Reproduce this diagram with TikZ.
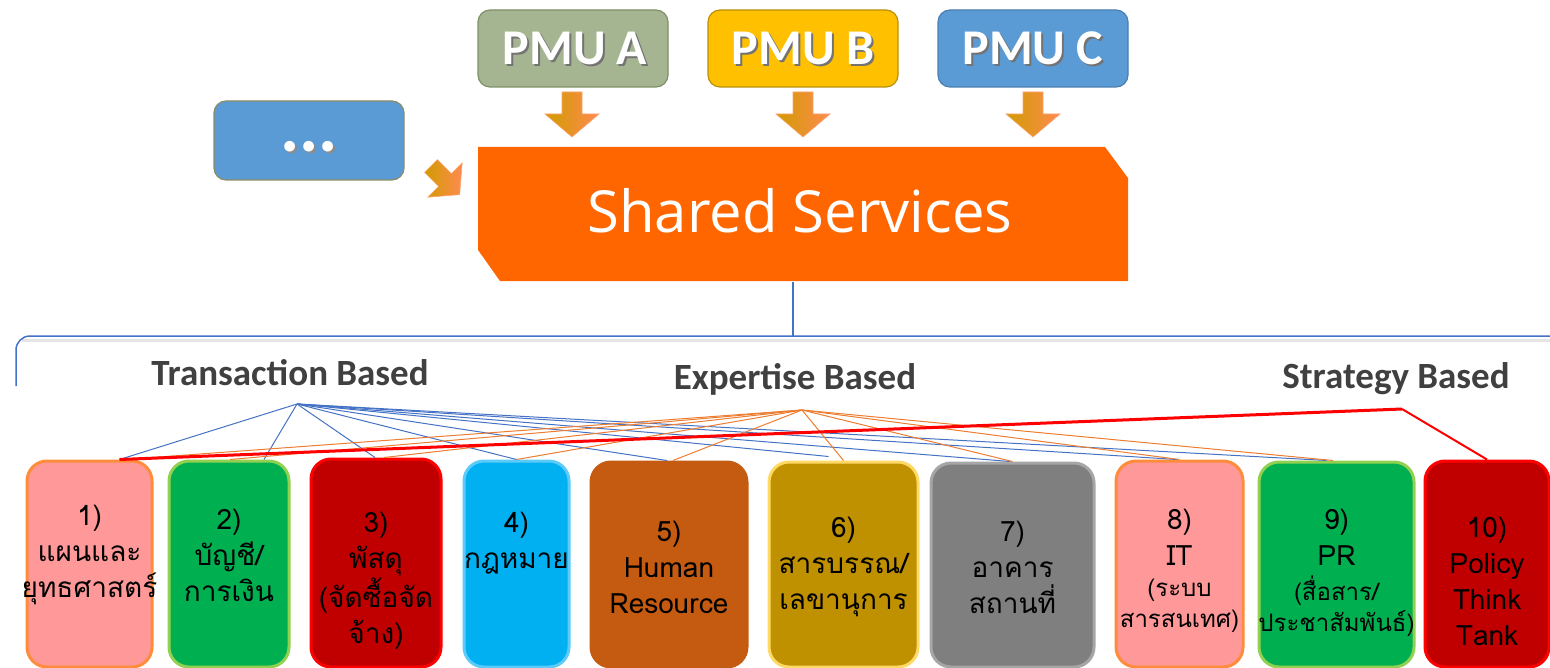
\documentclass[tikz,border=0pt]{standalone}
\usepackage{fontspec}
\setmainfont{Carlito}
\newfontfamily\thaifont[Script=Thai]{Loma}
\newfontfamily\ssfont{Open Sans}
\usetikzlibrary{calc}
\definecolor{pmuAfill}{HTML}{A5B592}
\definecolor{pmuAdraw}{HTML}{7F8F66}
\definecolor{pmuBfill}{HTML}{FFC000}
\definecolor{pmuBdraw}{HTML}{B8900A}
\definecolor{pmuCfill}{HTML}{5B9BD5}
\definecolor{pmuCdraw}{HTML}{4A7EB0}
\definecolor{dotsdraw}{HTML}{8C8C66}
\definecolor{ssorange}{HTML}{FF6600}
\definecolor{argold}{HTML}{D09C00}
\definecolor{arorange}{HTML}{FF8A50}
\definecolor{arline}{HTML}{FF7A30}
\definecolor{lblgrey}{HTML}{404040}
\definecolor{linkblue}{HTML}{4472C4}
\definecolor{linkorange}{HTML}{ED7D31}
\definecolor{linkred}{HTML}{FF0000}
\definecolor{pinkfill}{HTML}{FF9999}
\definecolor{pinkdraw}{HTML}{FF8C3A}
\definecolor{greenfill}{HTML}{00B050}
\definecolor{greendraw}{HTML}{92D050}
\definecolor{darkred}{HTML}{C00000}
\definecolor{brightred}{HTML}{FF0000}
\definecolor{skyfill}{HTML}{00B0F0}
\definecolor{skydraw}{HTML}{5CCBFA}
\definecolor{brownfill}{HTML}{C55A11}
\definecolor{goldfill}{HTML}{BF9000}
\definecolor{golddraw}{HTML}{FFD966}
\definecolor{greyfill}{HTML}{7F7F7F}
\definecolor{greydraw}{HTML}{A6A6A6}
\tikzset{
  pmubox/.style={draw=#1, rounded corners=6pt, line width=0.6pt, minimum width=95pt, minimum height=38.5pt, inner sep=0pt},
  pmutext/.style={text=white, font=\bfseries\fontsize{25}{28}\selectfont},
  pmushadow/.style={text=black!55, font=\bfseries\fontsize{25}{28}\selectfont},
  grouplbl/.style={text=lblgrey, font=\bfseries\fontsize{18.5}{21}\selectfont},
  svcbox/.style args={#1/#2}{draw=#2, fill=#1, line width=1.5pt, rounded corners=10pt, inner sep=0pt},
  svctext/.style={align=center, text=black, font=\thaifont\fontsize{14}{18}\selectfont, inner sep=0pt},
  svcsmall/.style={align=center, text=black, font=\thaifont\fontsize{12}{15.5}\selectfont, inner sep=0pt},
  bluelink/.style={draw=linkblue, line width=0.5pt},
  orangelink/.style={draw=linkorange, line width=0.5pt},
  redlink/.style={draw=linkred, line width=#1},
  barrow/.pic={\shade[left color=argold, right color=arorange, draw=arline!70, line width=0.3pt]
     (-10,0) -- (10,0) -- (10,22) -- (27,22) -- (0,45) -- (-27,22) -- (-10,22) -- cycle;}
}
\begin{document}
\begin{tikzpicture}[x=0.5pt,y=-0.5pt]
\useasboundingbox (0,0) rectangle (1550,668);

% --- PMU boxes
\node[pmubox=pmuAdraw, fill=pmuAfill] (pmua) at (573,48.5) {};
\node[pmubox=pmuBdraw, fill=pmuBfill] (pmub) at (803,48.5) {};
\node[pmubox=pmuCdraw, fill=pmuCfill] (pmuc) at (1033,48.5) {};
\node[pmushadow] (pmuas) at (577,50) {PMU A};
\node[pmutext] (pmuat) at (575,48) {PMU A};
\node[pmushadow] (pmubs) at (805,50) {PMU B};
\node[pmutext] (pmubt) at (803,48) {PMU B};
\node[pmushadow] (pmucs) at (1035,50) {PMU C};
\node[pmutext] (pmuct) at (1033,48) {PMU C};

% --- dots box
\node[pmubox=dotsdraw, fill=pmuCfill, minimum height=39.5pt] (dots) at (309,140.5) {};
\node[text=black!45, font=\bfseries\fontsize{36}{36}\selectfont] (dotss) at (311,149) {...};
\node[text=white, font=\bfseries\fontsize{36}{36}\selectfont] (dotst) at (309,147) {...};

% --- arrows
\pic at (572,92) {barrow};
\pic at (803,92) {barrow};
\pic at (1033,92) {barrow};
\pic[rotate=45, scale=0.9] at (431,166) {barrow};

% --- Shared services
\fill[ssorange] (478,147) -- (1105,147) -- (1128,178) -- (1128,281) -- (500,281) -- (478,250) -- cycle;
\node[text=white, font=\ssfont\fontsize{29}{32}\selectfont] (ss) at (800,211) {Shared Services};
\coordinate (ssb) at (793,282);
\coordinate (brk) at (793,336);

% --- bracket
\draw[black!10, line width=1.5pt] (22,340) -- (1552,340);
\draw[linkblue, line width=0.75pt] (ssb) -- (brk);
\draw[linkblue, line width=0.75pt, rounded corners=7pt] (1552,336) -- (16,336) -- (16,386);

% --- group labels
\node[grouplbl] (trans) at (290,373) {Transaction Based};
\node[grouplbl] (expert) at (795,379) {Expertise Based};
\node[grouplbl] (strat) at (1396,379) {Strategy Based};
\coordinate (tA) at (297,404);
\coordinate (eA) at (802,410);
\coordinate (sA) at (1402,409);

% --- service boxes
\node[svcbox=pinkfill/pinkdraw, minimum width=62.5pt, minimum height=103pt] (b1) at (89.5,564) {};
\node[svcbox=greenfill/greendraw, minimum width=60pt, minimum height=103pt] (b2) at (229,564) {};
\node[svcbox=darkred/brightred, minimum width=65pt, minimum height=104pt] (b3) at (376,563) {};
\node[svcbox=skyfill/skydraw, minimum width=52.5pt, minimum height=103pt] (b4) at (516.5,564) {};
\node[svcbox=brownfill/brownfill, minimum width=78pt, minimum height=102.5pt] (b5) at (669,564.5) {};
\node[svcbox=goldfill/golddraw, minimum width=74.5pt, minimum height=102.5pt] (b6) at (843.5,564.5) {};
\node[svcbox=greyfill/greydraw, minimum width=81.5pt, minimum height=102pt] (b7) at (1012.5,565) {};
\node[svcbox=pinkfill/pinkdraw, minimum width=63.5pt, minimum height=103pt] (b8) at (1179.5,564) {};
\node[svcbox=greenfill/greendraw, minimum width=77.5pt, minimum height=102.5pt] (b9) at (1336.5,564.5) {};
\node[svcbox=darkred/brightred, minimum width=62pt, minimum height=103pt] (b10) at (1487,564) {};

% --- connectors
\draw[bluelink] (tA) -- ($(b1.north)+(30,0)$);
\draw[bluelink] (tA) -- ($(b2.north)+(35,0)$);
\draw[bluelink] (tA) -- ($(b3.north)+(-1,0)$);
\draw[bluelink] (tA) -- ($(b4.north)+(0,0)$);
\draw[bluelink] (tA) -- ($(b5.north)+(-2,0)$);
\draw[bluelink] (tA) -- ($(b6.north)+(-15,-4)$);
\draw[bluelink] (tA) -- ($(b7.north)+(-2.5,0)$);
\draw[bluelink] (tA) -- ($(b8.north)+(-2.5,0)$);
\draw[bluelink] (tA) -- ($(b9.north)+(-9.5,0)$);
\draw[orangelink] (eA) -- ($(b1.north)+(35,0)$);
\draw[orangelink] (eA) -- ($(b2.north)+(1,0)$);
\draw[orangelink] (eA) -- ($(b3.north)+(8,0)$);
\draw[orangelink] (eA) -- ($(b4.north)+(0,0)$);
\draw[orangelink] (eA) -- ($(b5.north)+(4,0)$);
\draw[orangelink] (eA) -- ($(b6.north)+(0,0)$);
\draw[orangelink] (eA) -- ($(b7.north)+(0,0)$);
\draw[orangelink] (eA) -- ($(b8.north)+(0,0)$);
\draw[orangelink] (eA) -- ($(b9.north)+(-3.5,0)$);
\draw[redlink=1.5pt] (sA) -- ($(b1.north)+(30,0)$);
\draw[redlink=1pt] (sA) -- (b10.north);

% --- service texts
\node[svctext] (t1) at (89.5,555) {1)\\แผนและ\\ยุทธศาสตร์};
\node[svctext] (t2) at (229,555) {2)\\บัญชี/\\การเงิน};
\node[svctext] (t3) at (376,581) {3)\\พัสดุ\\(จัดซื้อจัด\\จ้าง)};
\node[svctext] (t4) at (516.5,543) {4)\\กฎหมาย};
\node[svctext] (t5) at (669,567) {5)\\Human\\Resource};
\node[svctext] (t6) at (843.5,567) {6)\\สารบรรณ/\\เลขานุการ};
\node[svctext] (t7) at (1012.5,567) {7)\\อาคาร\\สถานที่};
\node[svctext] (t8) at (1179.5,537) {8)\\IT};
\node[svcsmall] (t8s) at (1179.5,606) {(ระบบ\\สารสนเทศ)};
\node[svctext] (t9) at (1336.5,537) {9)\\PR};
\node[svcsmall] (t9s) at (1336.5,606) {(สื่อสาร/\\ประชาสัมพันธ์)};
\node[svctext] (t10) at (1487,581) {10)\\Policy\\Think\\Tank};
\end{tikzpicture}
\end{document}
